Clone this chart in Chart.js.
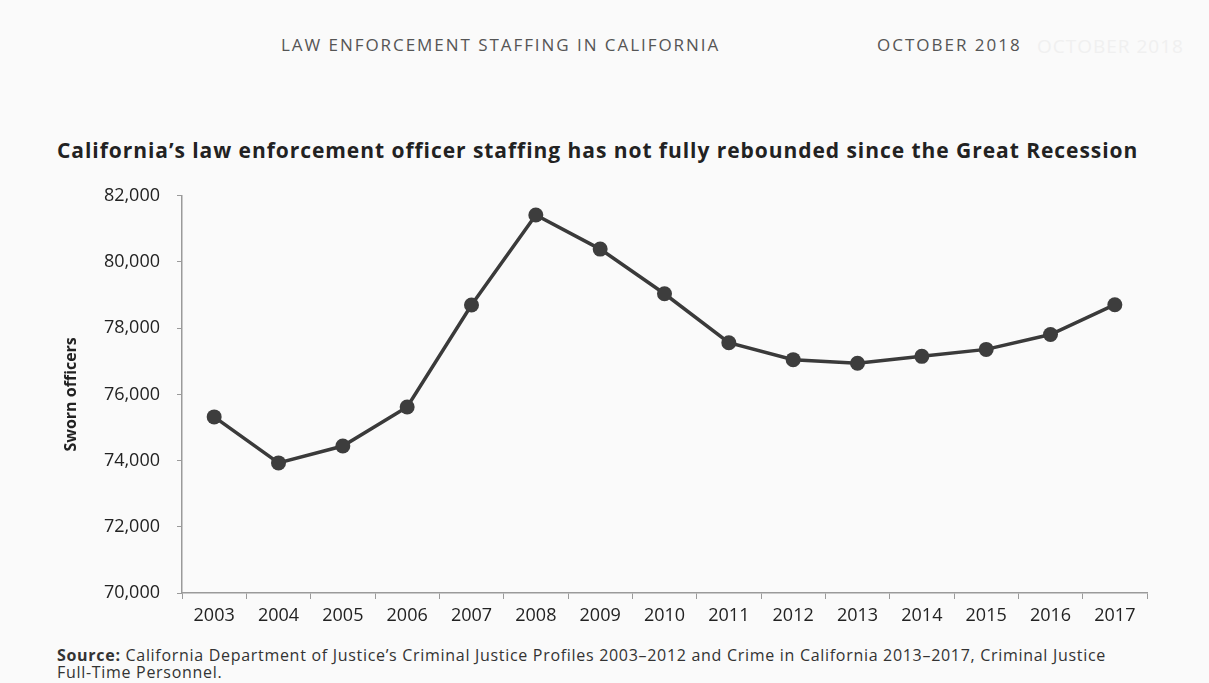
<!DOCTYPE html>
<html>
<head>
<meta charset="utf-8">
<script src="https://cdn.jsdelivr.net/npm/chart.js@4"></script>
<style>
  body { margin: 0; width: 1209px; height: 683px; background: #fafafa; font-family: "Open Sans", sans-serif; position: relative; overflow: hidden; }
  .txt { position: absolute; white-space: nowrap; }
  #header { left: 281px; top: 33px; font-size: 17px; color: #555; letter-spacing: 1.95px; }
  #date { left: 877px; top: 33px; font-size: 17px; color: #555; letter-spacing: 2px; }
  #ghost { left: 1037px; top: 33px; font-size: 19px; color: #f0f0f0; letter-spacing: 1px; }
  #title { left: 57px; top: 136px; font-size: 21px; font-weight: bold; color: #222; letter-spacing: 0.95px; }
  #source { left: 57px; top: 647px; font-size: 16px; color: #333; line-height: 17px; letter-spacing: 0.7px; }
  #chartWrap { position: absolute; left: 0; top: 168px; }
</style>
</head>
<body>
<div class="txt" id="header">LAW ENFORCEMENT STAFFING IN CALIFORNIA</div>
<div class="txt" id="date">OCTOBER 2018</div>
<div class="txt" id="ghost">OCTOBER 2018</div>
<div class="txt" id="title">California’s law enforcement officer staffing has not fully rebounded since the Great Recession</div>
<div class="txt" id="source"><b>Source:</b> California Department of Justice’s Criminal Justice Profiles 2003–2012 and Crime in California 2013–2017, Criminal Justice<br>Full-Time Personnel.</div>
<div id="chartWrap"><canvas id="myChart" width="1209" height="472"></canvas></div>

<script>
// 연도별 경찰관 수
const years = ["2003", "2004", "2005", "2006", "2007", "2008", "2009", "2010",
               "2011", "2012", "2013", "2014", "2015", "2016", "2017"];
const officers = [75320, 73930, 74440, 75620, 78700, 81420, 80390, 79040,
                  77560, 77050, 76940, 77150, 77360, 77810, 78710];
const yTicks = [70000, 72000, 74000, 76000, 78000, 80000, 82000];

const axisGray = "#9a9a9a";
const ctx = document.getElementById("myChart").getContext("2d");

const myChart = new Chart(ctx, {
    type: "line",
    data: {
        labels: years,
        datasets: [
            {
                label: "Sworn officers",
                data: officers,
                borderColor: "#3a3a3a",
                borderWidth: 3.5,
                backgroundColor: "#3a3a3a",
                pointRadius: 7.5,
                pointBorderWidth: 0,
                pointBackgroundColor: "#3d3d3d",
                tension: 0,
            },
        ],
    },
    options: {
        responsive: false,
        animation: false,
        devicePixelRatio: 1,
        layout: { padding: { top: 3, right: 62, left: 0, bottom: 0 } },
        plugins: {
            legend: { display: false },
            tooltip: { enabled: false },
        },
        scales: {
            x: {
                offset: true,
                grid: { offset: true, drawOnChartArea: false, color: axisGray, tickLength: 6 },
                border: { color: axisGray, width: 1.5 },
                ticks: { color: "#222", padding: 6, font: { family: "Open Sans", size: 18 } },
                afterFit: (scale) => { scale.height = 47; },
            },
            y: {
                min: yTicks[0],
                max: yTicks[yTicks.length - 1],
                afterBuildTicks: (scale) => { scale.ticks = yTicks.map(v => ({ value: v })); },
                grid: { drawOnChartArea: false, color: axisGray, tickLength: 5 },
                border: { color: axisGray, width: 1.5 },
                ticks: {
                    color: "#222",
                    padding: 17,
                    font: { family: "Open Sans", size: 18 },
                    callback: (v) => v.toLocaleString("en-US"),
                },
                title: {
                    display: true,
                    text: "Sworn officers",
                    color: "#222",
                    font: { family: "Open Sans", size: 16, weight: "bold" },
                    padding: { top: 62 },
                },
                afterFit: (scale) => { scale.width = 182; },
            },
        },
    },
});
</script>
</body>
</html>
